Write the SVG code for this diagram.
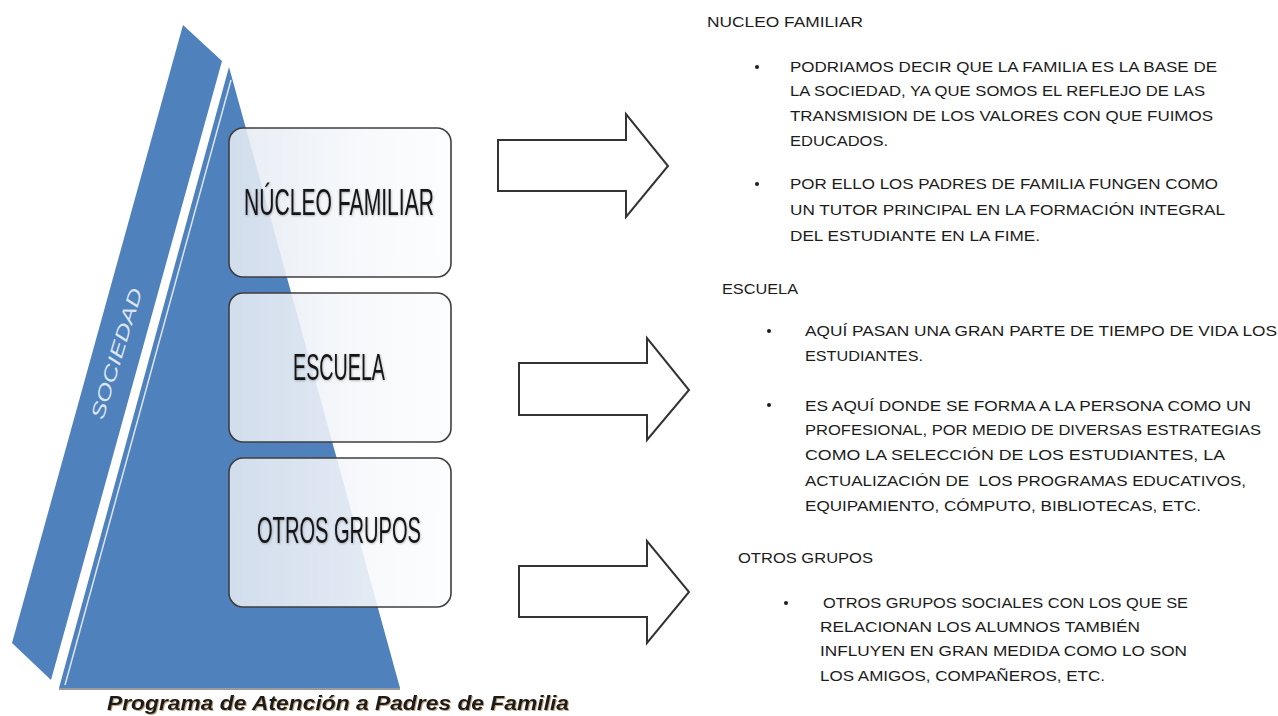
<svg xmlns="http://www.w3.org/2000/svg" width="1278" height="716" viewBox="0 0 1278 716">
<defs>
<linearGradient id="boxg" x1="0" y1="0" x2="1" y2="0">
<stop offset="0" stop-color="#e4eaf3"/>
<stop offset="0.6" stop-color="#f6f8fb"/>
<stop offset="1" stop-color="#fcfdfe"/>
</linearGradient>
<filter id="shadow" x="-5%" y="-20%" width="110%" height="160%">
<feDropShadow dx="1" dy="1" stdDeviation="0.6" flood-color="#9a6a2a" flood-opacity="0.6"/>
</filter>
<filter id="soft" x="-5%" y="-10%" width="110%" height="130%">
<feDropShadow dx="0.5" dy="0.8" stdDeviation="0.8" flood-color="#000" flood-opacity="0.3"/>
</filter>
</defs>
<style>
.box{fill:url(#boxg);fill-opacity:0.88;stroke:#3f3f3f;stroke-width:1.6}
.bt{font-family:"Liberation Sans",Arial,sans-serif;font-size:37px;fill:#151515}
.arrow{fill:#fff;stroke:#333;stroke-width:2;stroke-linejoin:miter}
.t{font-family:"Liberation Sans",Arial,sans-serif;font-size:14.5px;fill:#1c1c1c}
.h{font-family:"Liberation Sans",Arial,sans-serif;font-size:14px;fill:#1c1c1c}
</style>
<rect width="1278" height="716" fill="#fff"/>

<g id="pyramid">
<polygon id="sociedad-band" points="183,25 222,61 51,680 12,643" fill="#4f81bd"/>
<text x="0" y="0" transform="translate(118,354) rotate(-73)" text-anchor="middle" dominant-baseline="middle" font-family="Liberation Sans, Arial, sans-serif" font-style="italic" font-size="19" fill="#dce6f2" textLength="136" lengthAdjust="spacingAndGlyphs">SOCIEDAD</text>
<polygon id="triangle" points="229,67 400,688 59,688" fill="#4f81bd"/>
<line x1="231" y1="80" x2="65" y2="685" stroke="#dce6f2" stroke-width="1.5"/>
<line x1="59" y1="689" x2="400" y2="689" stroke="#4a4a4a" stroke-width="2" opacity="0.55"/>
</g>

<g id="node-nucleo">
<rect class="box" x="229" y="128" width="222" height="149" rx="14"/>
<text class="bt" x="244" y="215" textLength="190" lengthAdjust="spacingAndGlyphs" filter="url(#soft)">NÚCLEO FAMILIAR</text>
</g>
<g id="node-escuela">
<rect class="box" x="229" y="293" width="222" height="149" rx="14"/>
<text class="bt" x="293" y="380" textLength="92" lengthAdjust="spacingAndGlyphs" filter="url(#soft)">ESCUELA</text>
</g>
<g id="node-otros">
<rect class="box" x="229" y="458" width="222" height="149" rx="14"/>
<text class="bt" x="257" y="543" textLength="164" lengthAdjust="spacingAndGlyphs" filter="url(#soft)">OTROS GRUPOS</text>
</g>

<g id="connectors">
<polygon class="arrow" points="498,140 626,140 626,114 668,166 626,217 626,191 498,191"/>
<polygon class="arrow" points="519,363 647,363 647,338 689,390 647,440 647,415 519,415"/>
<polygon class="arrow" points="519,566 647,566 647,541 689,592 647,643 647,617 519,617"/>
</g>

<g id="text-nucleo">
<text class="h" x="707" y="27" textLength="156" lengthAdjust="spacingAndGlyphs">NUCLEO FAMILIAR</text>
<circle cx="757" cy="67" r="2" fill="#1c1c1c"/>
<text class="t" x="790" y="72" textLength="427" lengthAdjust="spacingAndGlyphs">PODRIAMOS DECIR QUE LA FAMILIA ES LA BASE DE</text>
<text class="t" x="790" y="96" textLength="415" lengthAdjust="spacingAndGlyphs">LA SOCIEDAD, YA QUE SOMOS EL REFLEJO DE LAS</text>
<text class="t" x="790" y="121" textLength="423" lengthAdjust="spacingAndGlyphs">TRANSMISION DE LOS VALORES CON QUE FUIMOS</text>
<text class="t" x="790" y="146" textLength="98" lengthAdjust="spacingAndGlyphs">EDUCADOS.</text>
<circle cx="757" cy="184" r="2" fill="#1c1c1c"/>
<text class="t" x="790" y="189" textLength="428" lengthAdjust="spacingAndGlyphs">POR ELLO LOS PADRES DE FAMILIA FUNGEN COMO</text>
<text class="t" x="790" y="215" textLength="435" lengthAdjust="spacingAndGlyphs">UN TUTOR PRINCIPAL EN LA FORMACIÓN INTEGRAL</text>
<text class="t" x="790" y="241" textLength="250" lengthAdjust="spacingAndGlyphs">DEL ESTUDIANTE EN LA FIME.</text>
</g>

<g id="text-escuela">
<text class="h" x="722" y="294" textLength="76" lengthAdjust="spacingAndGlyphs">ESCUELA</text>
<circle cx="769" cy="331" r="2" fill="#1c1c1c"/>
<text class="t" x="805" y="336" textLength="472" lengthAdjust="spacingAndGlyphs">AQUÍ PASAN UNA GRAN PARTE DE TIEMPO DE VIDA LOS</text>
<text class="t" x="805" y="361" textLength="118" lengthAdjust="spacingAndGlyphs">ESTUDIANTES.</text>
<circle cx="769" cy="405" r="2" fill="#1c1c1c"/>
<text class="t" x="805" y="411" textLength="446" lengthAdjust="spacingAndGlyphs">ES AQUÍ DONDE SE FORMA A LA PERSONA COMO UN</text>
<text class="t" x="805" y="435" textLength="456" lengthAdjust="spacingAndGlyphs">PROFESIONAL, POR MEDIO DE DIVERSAS ESTRATEGIAS</text>
<text class="t" x="805" y="460" textLength="420" lengthAdjust="spacingAndGlyphs">COMO LA SELECCIÓN DE LOS ESTUDIANTES, LA</text>
<text class="t" x="805" y="486" textLength="441" lengthAdjust="spacingAndGlyphs" xml:space="preserve">ACTUALIZACIÓN DE  LOS PROGRAMAS EDUCATIVOS,</text>
<text class="t" x="805" y="511" textLength="396" lengthAdjust="spacingAndGlyphs">EQUIPAMIENTO, CÓMPUTO, BIBLIOTECAS, ETC.</text>
</g>

<g id="text-otros">
<text class="h" x="738" y="563" textLength="135" lengthAdjust="spacingAndGlyphs">OTROS GRUPOS</text>
<circle cx="786" cy="603" r="2" fill="#1c1c1c"/>
<text class="t" x="823" y="608" textLength="365" lengthAdjust="spacingAndGlyphs">OTROS GRUPOS SOCIALES CON LOS QUE SE</text>
<text class="t" x="820" y="632" textLength="320" lengthAdjust="spacingAndGlyphs">RELACIONAN LOS ALUMNOS TAMBIÉN</text>
<text class="t" x="820" y="656" textLength="367" lengthAdjust="spacingAndGlyphs">INFLUYEN EN GRAN MEDIDA COMO LO SON</text>
<text class="t" x="820" y="681" textLength="285" lengthAdjust="spacingAndGlyphs">LOS AMIGOS, COMPAÑEROS, ETC.</text>
</g>

<g id="caption">
<text x="107" y="710" font-family="Liberation Sans, Arial, sans-serif" font-weight="bold" font-style="italic" font-size="20" fill="#1a1a1a" textLength="462" lengthAdjust="spacingAndGlyphs" filter="url(#shadow)">Programa de Atención a Padres de Familia</text>
</g>
</svg>
